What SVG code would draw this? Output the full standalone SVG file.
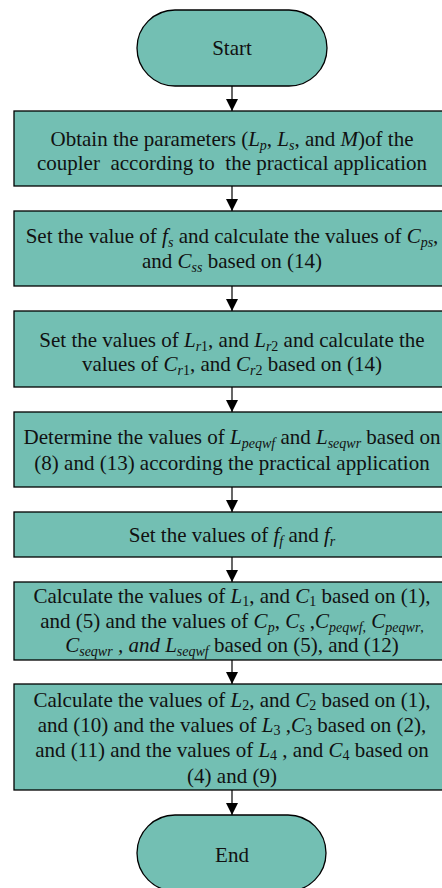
<svg xmlns="http://www.w3.org/2000/svg" width="442" height="888" viewBox="0 0 442 888">
<style>
.n{fill:#73BFB3;stroke:#000;stroke-width:1.3}
.t{font-family:"Liberation Serif","Times New Roman",serif;font-size:21px;fill:#111;text-anchor:middle;white-space:pre}
.i{font-style:italic}
.s{font-size:14px}
.c{stroke:#000;stroke-width:1.2;fill:none}
</style>
<defs>
<marker id="ah" viewBox="0 0 12 12" refX="12" refY="6" markerWidth="12" markerHeight="12" orient="auto" markerUnits="userSpaceOnUse">
<path d="M0,0 L12,6 L0,12 z" fill="#000"/>
</marker>
</defs>
<g id="connectors">
<line class="c" x1="232" y1="86" x2="232" y2="111" marker-end="url(#ah)"/>
<line class="c" x1="232" y1="186" x2="232" y2="211" marker-end="url(#ah)"/>
<line class="c" x1="232" y1="286" x2="232" y2="311" marker-end="url(#ah)"/>
<line class="c" x1="232" y1="387" x2="232" y2="412" marker-end="url(#ah)"/>
<line class="c" x1="232" y1="487" x2="232" y2="512" marker-end="url(#ah)"/>
<line class="c" x1="232" y1="557" x2="232" y2="582" marker-end="url(#ah)"/>
<line class="c" x1="232" y1="660" x2="232" y2="684" marker-end="url(#ah)"/>
<line class="c" x1="232" y1="790" x2="232" y2="815" marker-end="url(#ah)"/>
</g>
<g id="start">
<rect class="n" x="137" y="10" width="190" height="76" rx="38" ry="38"/>
<text class="t" x="232" y="55">Start</text>
</g>
<g id="step1">
<rect class="n" x="14" y="111" width="440" height="75"/>
<text class="t" x="232" y="146">Obtain the parameters (<tspan class="i">L</tspan><tspan class="s i" dy="4">p</tspan><tspan dy="-4">, </tspan><tspan class="i">L</tspan><tspan class="s i" dy="4">s</tspan><tspan dy="-4">, and </tspan><tspan class="i">M</tspan>)of the</text>
<text class="t" x="232" y="170">coupler  according to  the practical application</text>
</g>
<g id="step2">
<rect class="n" x="14" y="211" width="440" height="75"/>
<text class="t" x="232" y="243">Set the value of <tspan class="i">f</tspan><tspan class="s i" dy="4">s</tspan><tspan dy="-4"> and calculate the values of </tspan><tspan class="i">C</tspan><tspan class="s i" dy="4">ps</tspan><tspan dy="-4">,</tspan></text>
<text class="t" x="232" y="268">and <tspan class="i">C</tspan><tspan class="s i" dy="4">ss</tspan><tspan dy="-4"> based on (14)</tspan></text>
</g>
<g id="step3">
<rect class="n" x="14" y="311" width="440" height="76"/>
<text class="t" x="232" y="347">Set the values of <tspan class="i">L</tspan><tspan class="s i" dy="4">r</tspan><tspan class="s">1</tspan><tspan dy="-4">, and </tspan><tspan class="i">L</tspan><tspan class="s i" dy="4">r</tspan><tspan class="s">2</tspan><tspan dy="-4"> and calculate the</tspan></text>
<text class="t" x="232" y="371">values of <tspan class="i">C</tspan><tspan class="s i" dy="4">r</tspan><tspan class="s">1</tspan><tspan dy="-4">, and </tspan><tspan class="i">C</tspan><tspan class="s i" dy="4">r</tspan><tspan class="s">2</tspan><tspan dy="-4"> based on (14)</tspan></text>
</g>
<g id="step4">
<rect class="n" x="14" y="412" width="440" height="75"/>
<text class="t" x="232" y="444">Determine the values of <tspan class="i">L</tspan><tspan class="s i" dy="4">peqwf</tspan><tspan dy="-4"> and </tspan><tspan class="i">L</tspan><tspan class="s i" dy="4">seqwr</tspan><tspan dy="-4"> based on</tspan></text>
<text class="t" x="232" y="470">(8) and (13) according the practical application</text>
</g>
<g id="step5">
<rect class="n" x="14" y="512" width="440" height="45"/>
<text class="t" x="232" y="542">Set the values of <tspan class="i">f</tspan><tspan class="s i" dy="4">f</tspan><tspan dy="-4"> and </tspan><tspan class="i">f</tspan><tspan class="s i" dy="4">r</tspan></text>
</g>
<g id="step6">
<rect class="n" x="14" y="582" width="440" height="78"/>
<text class="t" x="232" y="603">Calculate the values of <tspan class="i">L</tspan><tspan class="s" dy="3">1</tspan><tspan dy="-3">, and </tspan><tspan class="i">C</tspan><tspan class="s" dy="3">1</tspan><tspan dy="-3"> based on (1),</tspan></text>
<text class="t" x="232" y="628">and (5) and the values of <tspan class="i">C</tspan><tspan class="s i" dy="4">p</tspan><tspan dy="-4">, </tspan><tspan class="i">C</tspan><tspan class="s i" dy="4">s</tspan><tspan dy="-4"> ,</tspan><tspan class="i">C</tspan><tspan class="s i" dy="4">peqwf</tspan><tspan class="s">,</tspan><tspan dy="-4"> </tspan><tspan class="i">C</tspan><tspan class="s i" dy="4">peqwr</tspan><tspan class="s">,</tspan></text>
<text class="t" x="232" y="652"><tspan class="i">C</tspan><tspan class="s i" dy="4">seqwr</tspan><tspan class="i" dy="-4"> , and </tspan><tspan class="i">L</tspan><tspan class="s i" dy="4">seqwf</tspan><tspan dy="-4"> based on (5), and (12)</tspan></text>
</g>
<g id="step7">
<rect class="n" x="14" y="684" width="440" height="106"/>
<text class="t" x="232" y="707">Calculate the values of <tspan class="i">L</tspan><tspan class="s" dy="3">2</tspan><tspan dy="-3">, and </tspan><tspan class="i">C</tspan><tspan class="s" dy="3">2</tspan><tspan dy="-3"> based on (1),</tspan></text>
<text class="t" x="232" y="732">and (10) and the values of <tspan class="i">L</tspan><tspan class="s" dy="3">3</tspan><tspan dy="-3"> ,</tspan><tspan class="i">C</tspan><tspan class="s" dy="3">3</tspan><tspan dy="-3"> based on (2),</tspan></text>
<text class="t" x="232" y="757">and (11) and the values of <tspan class="i">L</tspan><tspan class="s" dy="3">4</tspan><tspan dy="-3"> , and </tspan><tspan class="i">C</tspan><tspan class="s" dy="3">4</tspan><tspan dy="-3"> based on</tspan></text>
<text class="t" x="232" y="783">(4) and (9)</text>
</g>
<g id="end">
<rect class="n" x="137" y="815" width="189" height="76" rx="38" ry="38"/>
<text class="t" x="232" y="862">End</text>
</g>
</svg>
